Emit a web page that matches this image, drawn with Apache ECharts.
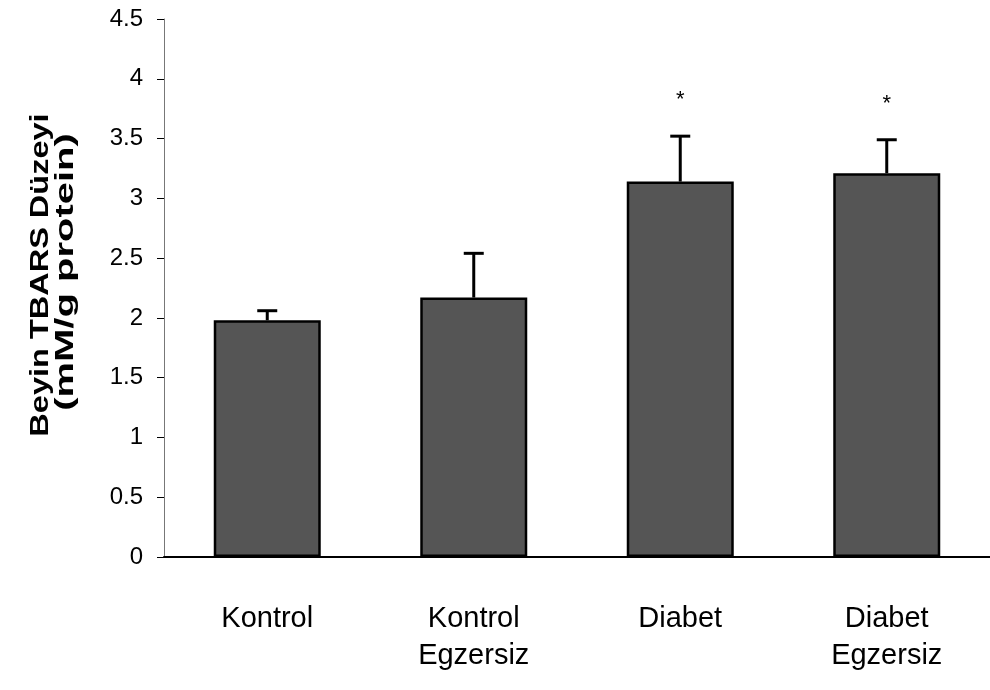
<!DOCTYPE html>
<html><head><meta charset="utf-8">
<script src="https://cdn.jsdelivr.net/npm/echarts@6/dist/echarts.min.js"></script>
<style>html,body{margin:0;padding:0;background:#fff}#c{width:990px;height:690px}</style>
</head><body><div id="c"></div>
<script>
var categories = ['Kontrol', 'Kontrol\nEgzersiz', 'Diabet', 'Diabet\nEgzersiz'];
var means = [1.98, 2.17, 3.14, 3.21];
var errors = [0.08, 0.37, 0.38, 0.28];
var significance = ['', '', '*', '*'];
var yTicks = ['0', '0.5', '1', '1.5', '2', '2.5', '3', '3.5', '4', '4.5'];
var yTitleLines = ['Beyin TBARS Düzeyi', '(mM/g protein)'];

var chart = echarts.init(document.getElementById('c'));
var font = 'Liberation Sans, Arial, sans-serif';
chart.setOption({
  animation: false,
  grid: { left: 164, top: 19, height: 538, width: 838 },
  graphic: [{
    type: 'text', rotation: Math.PI / 2, x: 41, y: 275, scaleX: 1.3,
    style: { text: yTitleLines[0], fill: '#000', font: 'bold 25px ' + font,
      textAlign: 'center', textVerticalAlign: 'middle' }
  }, {
    type: 'text', rotation: Math.PI / 2, x: 66, y: 272, scaleX: 1.6,
    style: { text: yTitleLines[1], fill: '#000', font: 'bold 25px ' + font,
      textAlign: 'center', textVerticalAlign: 'middle' }
  }],
  xAxis: {
    type: 'category', data: categories,
    axisLine: { lineStyle: { color: '#000', width: 2 } },
    axisTick: { show: false },
    axisLabel: { color: '#000', fontFamily: font, fontSize: 29, lineHeight: 37, margin: 43, verticalAlign: 'top' }
  },
  yAxis: {
    type: 'value', min: 0, max: 4.5, interval: 0.5,
    axisLine: { show: true, lineStyle: { color: '#777', width: 1 } },
    axisTick: { show: true, length: 7, lineStyle: { color: '#000' } },
    splitLine: { show: false },
    axisLabel: { color: '#000', fontFamily: font, fontSize: 24, margin: 21,
      formatter: function (v) { var i = Math.round(v / 0.5); return yTicks[i]; } }
  },
  series: [
    {
      type: 'bar', data: means, barWidth: 107,
      itemStyle: { color: '#555555', borderColor: '#000', borderWidth: 2.5 }
    },
    {
      type: 'custom',
      data: means.map(function (m, i) { return [i, m, m + errors[i]]; }),
      renderItem: function (params, api) {
        var x = api.value(0);
        var p0 = api.coord([x, api.value(1)]);
        var p1 = api.coord([x, api.value(2)]);
        var ls = { stroke: '#000', lineWidth: 3 };
        var children = [
          { type: 'line', shape: { x1: p0[0], y1: p0[1], x2: p1[0], y2: p1[1] }, style: ls },
          { type: 'line', shape: { x1: p1[0] - 10, y1: p1[1], x2: p1[0] + 10, y2: p1[1] }, style: ls }
        ];
        var s = significance[params.dataIndex];
        if (s) {
          children.push({ type: 'text', x: p1[0], y: p1[1] - 36,
            style: { text: s, fill: '#000', font: '22px ' + font, textAlign: 'center', textVerticalAlign: 'middle' } });
        }
        return { type: 'group', children: children };
      },
      z: 5
    }
  ]
});
</script></body></html>
